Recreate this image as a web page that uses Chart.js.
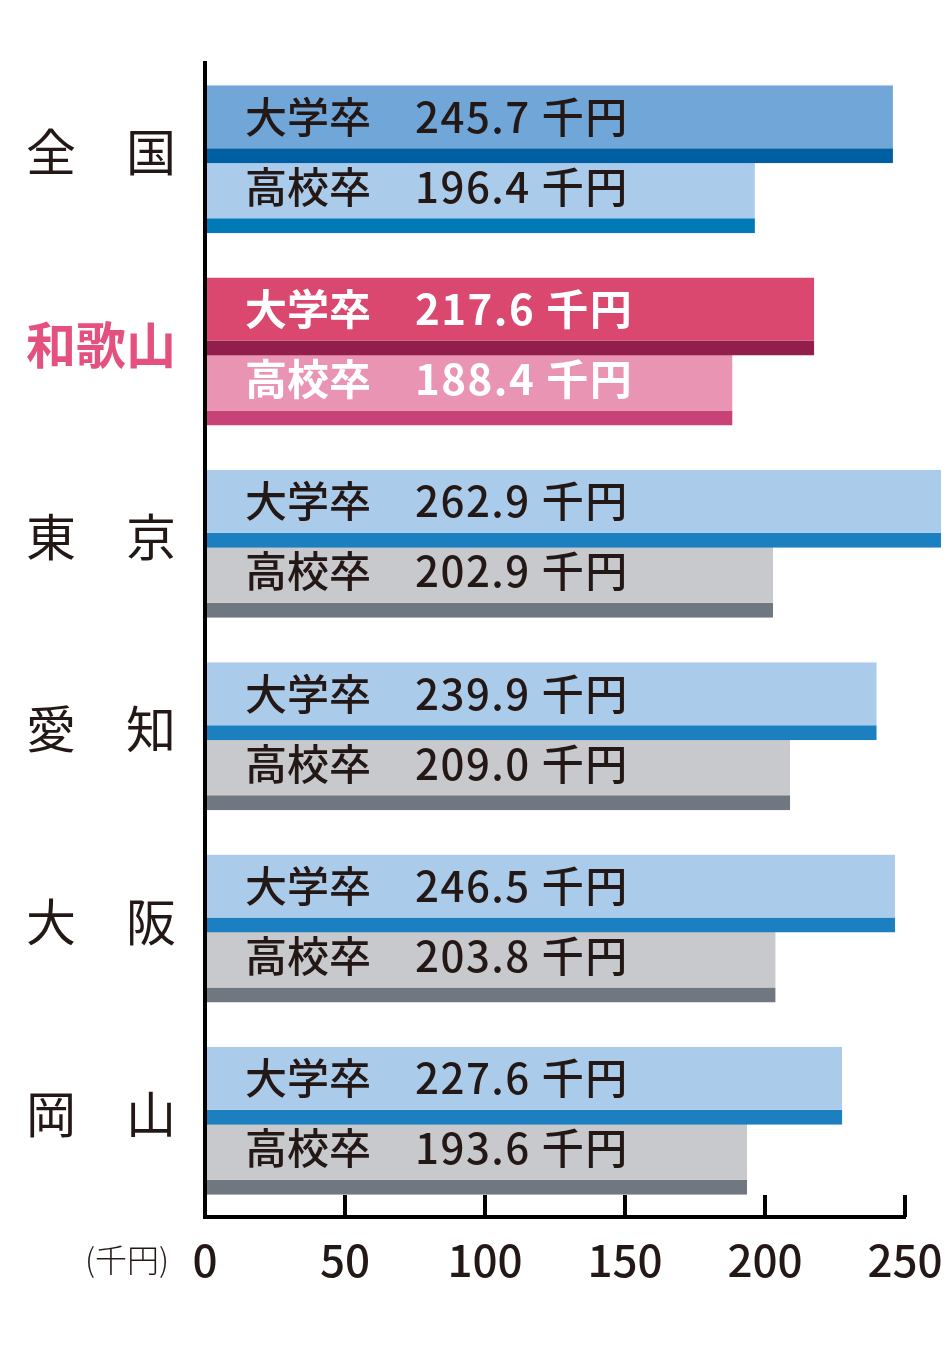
<!DOCTYPE html>
<html lang="ja">
<head>
<meta charset="utf-8">
<title>初任給</title>
<script src="https://cdn.jsdelivr.net/npm/chart.js@4.4.1/dist/chart.umd.min.js"></script>
<style>
  html, body { margin: 0; padding: 0; background: #fff; }
  #wrap { width: 952px; height: 1346px; }
</style>
</head>
<body>
<div id="wrap"><canvas id="chart" width="952" height="1346"></canvas></div>
<script>
// 地域
const regions = ['全　国', '和歌山', '東　京', '愛　知', '大　阪', '岡　山'];
// 系列
const seriesNames = ['大学卒', '高校卒'];
// 初任給（千円）
const univValues = [245.7, 217.6, 262.9, 239.9, 246.5, 227.6];
const highValues = [196.4, 188.4, 202.9, 209.0, 203.8, 193.6];
// 目盛り
const xTicks = [0, 50, 100, 150, 200, 250];
const unitLabel = '(千円)';

const HIGHLIGHT = 1; // 和歌山
const FONT = '"Noto Sans CJK JP", "Noto Sans", sans-serif';
const TEXT = '#231815';
const STRIPE = 15;

// 色（大学卒 / 高校卒、地域ごと）
const univFill   = ['#70a6d8', '#da476f', '#abcbea', '#abcbea', '#abcbea', '#abcbea'];
const univStripe = ['#005ea2', '#921e4b', '#1c7fbf', '#1c7fbf', '#1c7fbf', '#1c7fbf'];
const highFill   = ['#abcbea', '#e994b3', '#c8c9cc', '#c8c9cc', '#c8c9cc', '#c8c9cc'];
const highStripe = ['#0079b7', '#c84278', '#6f7780', '#6f7780', '#6f7780', '#6f7780'];

// 棒の中の文字
const barLabels = {
    id: 'barLabels',
    afterDatasetsDraw(chart) {
        const { ctx, chartArea } = chart;
        ctx.save();
        ctx.textBaseline = 'middle';
        ctx.textAlign = 'left';
        chart.data.datasets.forEach((ds, di) => {
            chart.getDatasetMeta(di).data.forEach((bar, i) => {
                const y = bar.y - STRIPE / 2;
                const hi = i === HIGHLIGHT;
                ctx.font = (hi ? '700' : '500') + ' 42px ' + FONT;
                ctx.fillStyle = hi ? '#ffffff' : TEXT;
                ctx.letterSpacing = '0px';
                ctx.fillText(seriesNames[di], chartArea.left + 40, y);
                ctx.letterSpacing = '1.5px';
                ctx.fillText(ds.data[i].toFixed(1) + ' 千円', chartArea.left + 210, y);
            });
        });
        ctx.restore();
    }
};

// 内向きの目盛り線と単位
const innerTicks = {
    id: 'innerTicks',
    afterDraw(chart) {
        const { ctx, chartArea } = chart;
        const xs = chart.scales.x;
        ctx.save();
        ctx.strokeStyle = '#000';
        ctx.lineWidth = 4;
        xs.ticks.forEach(t => {
            if (t.value === 0) return;
            const px = xs.getPixelForValue(t.value);
            ctx.beginPath();
            ctx.moveTo(px, chartArea.bottom);
            ctx.lineTo(px, chartArea.bottom - 22);
            ctx.stroke();
        });
        ctx.font = '300 32px ' + FONT;
        ctx.fillStyle = TEXT;
        ctx.textAlign = 'center';
        ctx.textBaseline = 'middle';
        ctx.fillText(unitLabel, chartArea.left - 78, chartArea.bottom + 43);
        ctx.restore();
    }
};

new Chart(document.getElementById('chart'), {
    type: 'bar',
    data: {
        labels: regions,
        datasets: [
            {
                label: seriesNames[0],
                data: univValues,
                backgroundColor: univFill,
                borderColor: univStripe,
                borderWidth: { top: 0, right: 0, bottom: STRIPE, left: 0 },
                borderSkipped: false,
                clip: false
            },
            {
                label: seriesNames[1],
                data: highValues,
                backgroundColor: highFill,
                borderColor: highStripe,
                borderWidth: { top: 0, right: 0, bottom: STRIPE, left: 0 },
                borderSkipped: false,
                clip: false
            }
        ]
    },
    options: {
        indexAxis: 'y',
        responsive: false,
        animation: false,
        devicePixelRatio: 1,
        categoryPercentage: 0.728,
        barPercentage: 1.114,
        layout: { padding: { top: 63, right: 47, left: 0, bottom: 0 } },
        plugins: {
            legend: { display: false },
            tooltip: { enabled: false }
        },
        scales: {
            x: {
                min: 0,
                max: 250,
                afterBuildTicks: scale => { scale.ticks = xTicks.map(v => ({ value: v })); },
                afterFit: scale => {
                    scale.height = 129;
                    scale.paddingLeft = 0;
                    scale.paddingRight = 0;
                },
                grid: { display: false, drawTicks: false },
                border: { display: true, color: '#000', width: 4, z: 1 },
                ticks: {
                    color: TEXT,
                    padding: 17,
                    maxRotation: 0,
                    font: { family: FONT, size: 44, weight: '500' }
                }
            },
            y: {
                afterFit: scale => { scale.width = 205; },
                grid: { display: false, drawTicks: false },
                border: { display: true, color: '#000', width: 4, z: 1 },
                ticks: {
                    padding: 29,
                    labelOffset: -7,
                    color: ctx => ctx.index === HIGHLIGHT ? '#e5517e' : TEXT,
                    font: ctx => ({ family: FONT, size: 50, weight: ctx.index === HIGHLIGHT ? '700' : '400' })
                }
            }
        }
    },
    plugins: [barLabels, innerTicks]
});
</script>
</body>
</html>
